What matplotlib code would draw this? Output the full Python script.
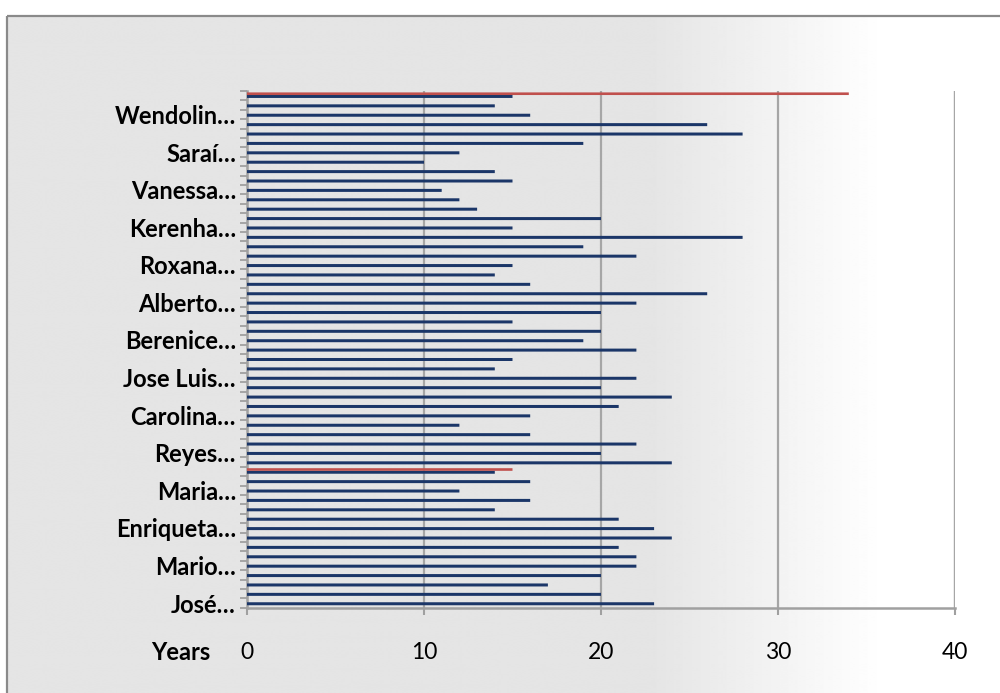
import numpy as np
import matplotlib
matplotlib.use("Agg")
import matplotlib.pyplot as plt
from matplotlib.patches import Rectangle

# Years per person, listed from the bottom category to the top one
years = [23, 20, 17, 20, 22, 22, 21, 24, 23, 21,
         14, 16, 12, 16, 14, 24, 20, 22, 16, 12,
         16, 21, 24, 20, 22, 14, 15, 22, 19, 20,
         15, 20, 22, 26, 16, 14, 15, 22, 19, 28,
         15, 20, 13, 12, 11, 15, 14, 10, 12, 19,
         28, 26, 16, 14, 15]

# Second series: only two categories carry a value
reference = [0] * len(years)
reference[14] = 15
reference[54] = 34

# Category labels shown on every fourth row, starting at the bottom
label_rows = [0, 4, 8, 12, 16, 20, 24, 28, 32, 36, 40, 44, 48, 52]
label_names = ["José…", "Mario…", "Enriqueta…", "Maria…", "Reyes…",
               "Carolina…", "Jose Luis…", "Berenice…", "Alberto…",
               "Roxana…", "Kerenha…", "Vanessa…", "Saraí…", "Wendolin…"]

x_ticks = [0, 10, 20, 30, 40]
x_title = "Years"

plt.rcParams["font.family"] = ["Lato", "DejaVu Sans"]

W, H = 1000, 693
fig = plt.figure(figsize=(W / 100, H / 100), dpi=100)
fig.patch.set_facecolor("white")

# Chart-area background: flat grey on the left, fading to white on the right
bg = fig.add_axes([0, 0, 1, 1], zorder=-10)
bg.set_xlim(0, W)
bg.set_ylim(H, 0)
bg.axis("off")
xs = np.linspace(0, W, 1000)
t = np.clip((xs - 650) / (880 - 650), 0, 1)
shade = 0.898 + (1.0 - 0.898) * t
grad = np.tile(shade, (10, 1))
bg.imshow(grad, cmap="gray", vmin=0, vmax=1, aspect="auto",
          extent=(7, W + 5, H + 5, 16), interpolation="bilinear")
bg.add_patch(Rectangle((7, 16), W, H, fill=False, edgecolor="#8a8a8a",
                       linewidth=1.6))

ax = fig.add_axes([247 / W, 1 - 607.7 / H, (955 - 247) / W, (607.7 - 91) / H])
ax.set_facecolor("none")

n = len(years)
pos = np.arange(n)
ax.barh(pos - 0.08, years, height=0.32, color="#1b3668", zorder=3,
        snap=False)
ax.barh(pos + 0.21, reference, height=0.28, color="#c0504d", zorder=3,
        snap=False)

ax.set_xlim(0, 40)
ax.set_ylim(-0.5, n - 0.5)

ax.set_xticks(x_ticks)
ax.set_xticklabels([str(v) for v in x_ticks], fontsize=16.5)
ax.tick_params(axis="x", direction="out", length=5, width=1.5,
               color="#a0a0a0", pad=20)

ax.set_yticks(label_rows)
ax.set_yticklabels(label_names, fontsize=17, fontweight="bold")
ax.set_yticks(np.arange(n + 1) - 0.5, minor=True)
ax.tick_params(axis="y", which="major", length=0, pad=8)
ax.tick_params(axis="y", which="minor", direction="out", length=5,
               width=1.3, color="#a0a0a0")

ax.grid(axis="x", color="#a6a6a6", linewidth=1.6, zorder=1)
ax.axvline(40, color="#a6a6a6", linewidth=1.6, zorder=1)
for side in ("top", "right"):
    ax.spines[side].set_visible(False)
for side in ("left", "bottom"):
    ax.spines[side].set_color("#a0a0a0")
    ax.spines[side].set_linewidth(1.8)

fig.text(181 / W, 1 - 652 / H, x_title, fontsize=17, fontweight="bold",
         ha="center", va="center")

fig.savefig("out.png", dpi=100)
